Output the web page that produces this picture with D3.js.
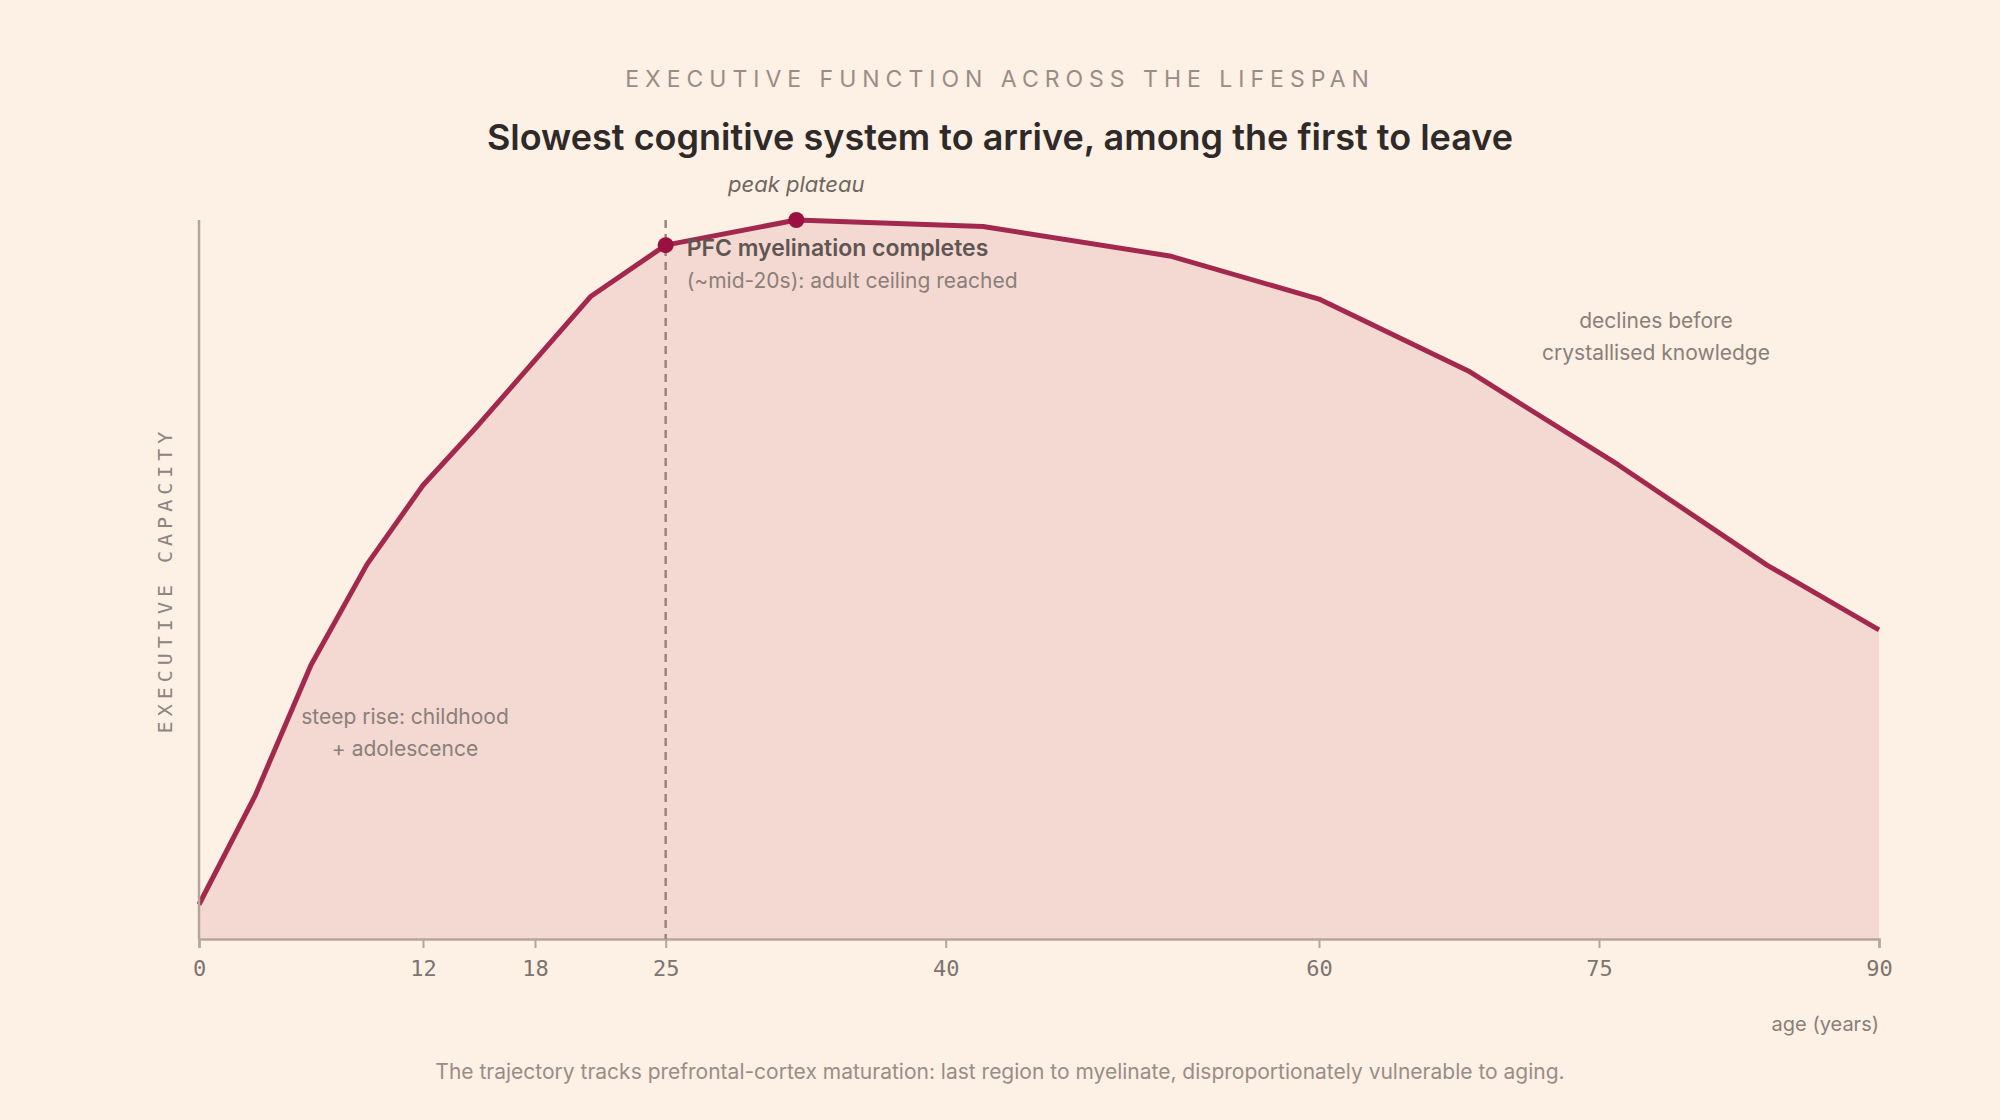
<!DOCTYPE html>
<html><head><meta charset="utf-8">
<script src="https://cdn.jsdelivr.net/npm/d3@7"></script>
<style>body{margin:0;background:#fdf0e5;}svg{display:block;font-family:Inter,"Noto Sans",sans-serif;}</style>
</head><body><svg id="c" width="2000" height="1120"></svg>
<script>
const ages = [0, 3, 6, 9, 12, 15, 18, 21, 25, 32, 42, 52, 60, 68, 76, 84, 90];
const capacity = [4.8, 19.9, 38.1, 52.1, 63.1, 71.6, 80.5, 89.4, 96.5, 100, 99.1, 95, 89, 79, 66, 52, 43];
const tickAges = [0, 12, 18, 25, 40, 60, 75, 90];

const svg = d3.select("#c");
const x = d3.scaleLinear().domain([0, 90]).range([199, 1879]);
const y = d3.scaleLinear().domain([0, 100]).range([939, 220]);
const pts = ages.map((a, i) => [a, capacity[i]]);

// area + line
svg.append("path").datum(pts)
  .attr("d", d3.area().x(d => x(d[0])).y0(y(0)).y1(d => y(d[1])))
  .attr("fill", "#f4d9d2");
svg.append("path").datum(pts)
  .attr("d", d3.line().x(d => x(d[0])).y(d => y(d[1])))
  .attr("fill", "none").attr("stroke", "#a3284e").attr("stroke-width", 5).attr("stroke-linejoin", "round");

// axes
const xAxis = svg.append("g").attr("transform", `translate(0,${y(0)})`)
  .call(d3.axisBottom(x).tickValues(tickAges).tickSize(9).tickPadding(12));
xAxis.select(".domain").attr("stroke", "#b3a69c").attr("stroke-width", 2.5);
xAxis.selectAll(".tick line").attr("stroke", "#b3a69c").attr("stroke-width", 2);
xAxis.selectAll("text").attr("font-family", "'DejaVu Sans Mono',monospace").attr("font-size", 22).attr("fill", "#7d7470");
svg.append("line").attr("x1", x(0)).attr("x2", x(0)).attr("y1", y(100)).attr("y2", y(0))
  .attr("stroke", "#b3a69c").attr("stroke-width", 2.5);

// dashed marker at 25
svg.append("line").attr("x1", x(25)).attr("x2", x(25)).attr("y1", y(100)).attr("y2", y(0))
  .attr("stroke", "#9a8582").attr("stroke-width", 2.5).attr("stroke-dasharray", "8,6");

// dots
[[25, 96.5], [32, 100]].forEach(d => svg.append("circle").attr("cx", x(d[0])).attr("cy", y(d[1])).attr("r", 8).attr("fill", "#9b1040"));

const txt = (t, px, py, o = {}) => svg.append("text").attr("x", px).attr("y", py).text(t)
  .attr("font-size", o.size || 22).attr("fill", o.fill || "#8a7f79")
  .attr("text-anchor", o.anchor || "middle").attr("font-weight", o.weight || 400)
  .attr("font-style", o.style || "normal").attr("letter-spacing", o.ls || 0)
  .attr("font-family", o.family || null);

txt("EXECUTIVE FUNCTION ACROSS THE LIFESPAN", 1000, 87, {size: 23, ls: 6, fill: "#9a8d85"});
txt("Slowest cognitive system to arrive, among the first to leave", 1000, 150, {size: 36, weight: 600, fill: "#2f2a28"});
txt("peak plateau", x(32), 192, {size: 22, style: "italic", fill: "#6f6662"});
txt("PFC myelination completes", x(25) + 21, 256, {size: 23, weight: 600, anchor: "start", fill: "#5f5652"});
txt("(~mid-20s): adult ceiling reached", x(25) + 21, 288, {size: 21, anchor: "start"});
txt("declines before", 1656, 328, {size: 21});
txt("crystallised knowledge", 1656, 360, {size: 21});
txt("steep rise: childhood", 405, 724, {size: 21});
txt("+ adolescence", 405, 756, {size: 21});
txt("age (years)", 1879, 1031, {size: 20, anchor: "end"});
txt("The trajectory tracks prefrontal-cortex maturation: last region to myelinate, disproportionately vulnerable to aging.", 1000, 1079, {size: 21, fill: "#9a8d85"});
svg.append("text").attr("transform", "translate(172,580) rotate(-90)").attr("text-anchor", "middle")
  .attr("font-family", "'DejaVu Sans Mono',monospace").attr("font-size", 20).attr("letter-spacing", 5)
  .attr("fill", "#8f847e").text("EXECUTIVE CAPACITY");
</script></body></html>
